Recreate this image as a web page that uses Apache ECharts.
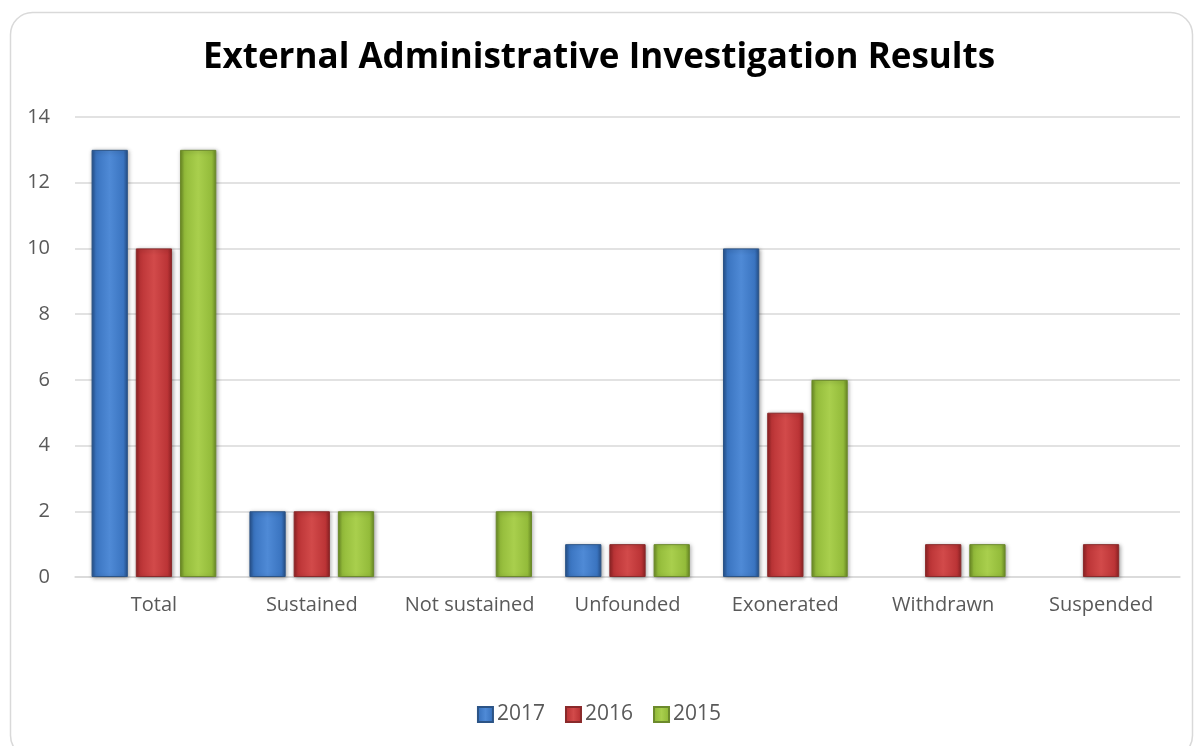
<!DOCTYPE html>
<html>
<head>
<meta charset="utf-8">
<script src="https://cdn.jsdelivr.net/npm/echarts@6/dist/echarts.min.js"></script>
<style>
  html, body { margin: 0; padding: 0; background: #ffffff; }
  #chart { width: 1198px; height: 746px; }
</style>
</head>
<body>
<div id="chart"></div>
<script>
const categories = ['Total', 'Sustained', 'Not sustained', 'Unfounded', 'Exonerated', 'Withdrawn', 'Suspended'];
const values2017 = [13, 2, 0, 1, 10, 0, 0];
const values2016 = [10, 2, 0, 1, 5, 1, 1];
const values2015 = [13, 2, 2, 1, 6, 1, 0];
const yTicks = [0, 2, 4, 6, 8, 10, 12, 14];

const FONT = '"Open Sans", "Noto Sans", sans-serif';

function bevel(edge, mid, light) {
  return new echarts.graphic.LinearGradient(0, 0, 1, 0, [
    { offset: 0, color: edge },
    { offset: 0.12, color: mid },
    { offset: 0.5, color: light },
    { offset: 0.88, color: mid },
    { offset: 1, color: edge }
  ]);
}

function barSeries(name, data, edge, mid, light, border) {
  return {
    name: name,
    type: 'bar',
    data: data.map(v => v === 0 ? null : v),
    barGap: '22%',
    barCategoryGap: '21%',
    itemStyle: {
      color: bevel(edge, mid, light),
      borderColor: border,
      borderWidth: 1,
      shadowColor: 'rgba(0,0,0,0.35)',
      shadowBlur: 4,
      shadowOffsetX: 1,
      shadowOffsetY: 1
    }
  };
}

const chart = echarts.init(document.getElementById('chart'));
chart.setOption({
  animation: false,
  backgroundColor: '#ffffff',
  graphic: [{
    type: 'rect',
    shape: { x: 10.5, y: 12.5, width: 1182, height: 745, r: 22 },
    style: { fill: 'none', stroke: '#d9d9d9', lineWidth: 1.5 },
    z: -1
  }],
  title: {
    text: 'External Administrative Investigation Results',
    left: 'center',
    top: 36,
    textStyle: { fontFamily: FONT, fontSize: 35, fontWeight: 'bold', color: '#000000' }
  },
  legend: {
    bottom: 16,
    left: 'center',
    itemWidth: 15,
    itemHeight: 15,
    itemGap: 20,
    icon: 'rect',
    textStyle: { fontFamily: FONT, fontSize: 21, color: '#595959', padding: [0, 0, 0, -1] },
    data: ['2017', '2016', '2015']
  },
  grid: { left: 75, right: 18, top: 117, bottom: 169 },
  xAxis: {
    type: 'category',
    data: categories,
    axisLine: { lineStyle: { color: '#d9d9d9', width: 1.5 } },
    axisTick: { show: false },
    axisLabel: { interval: 0, fontFamily: FONT, fontSize: 20, color: '#595959', margin: 18 }
  },
  yAxis: {
    type: 'value',
    min: yTicks[0],
    max: yTicks[yTicks.length - 1],
    interval: 2,
    axisLine: { show: false },
    axisTick: { show: false },
    axisLabel: { fontFamily: FONT, fontSize: 20, color: '#595959', margin: 25 },
    splitLine: { lineStyle: { color: '#d9d9d9', width: 1.5 } }
  },
  series: [
    barSeries('2017', values2017, '#25508a', '#3a74c0', '#4f8ad6', '#2c5486'),
    barSeries('2016', values2016, '#8e2224', '#bb3436', '#d24a4a', '#8a2a2b'),
    barSeries('2015', values2015, '#6a8a24', '#93bb3a', '#a9cf4d', '#6c8a2c')
  ]
});
</script>
</body>
</html>
